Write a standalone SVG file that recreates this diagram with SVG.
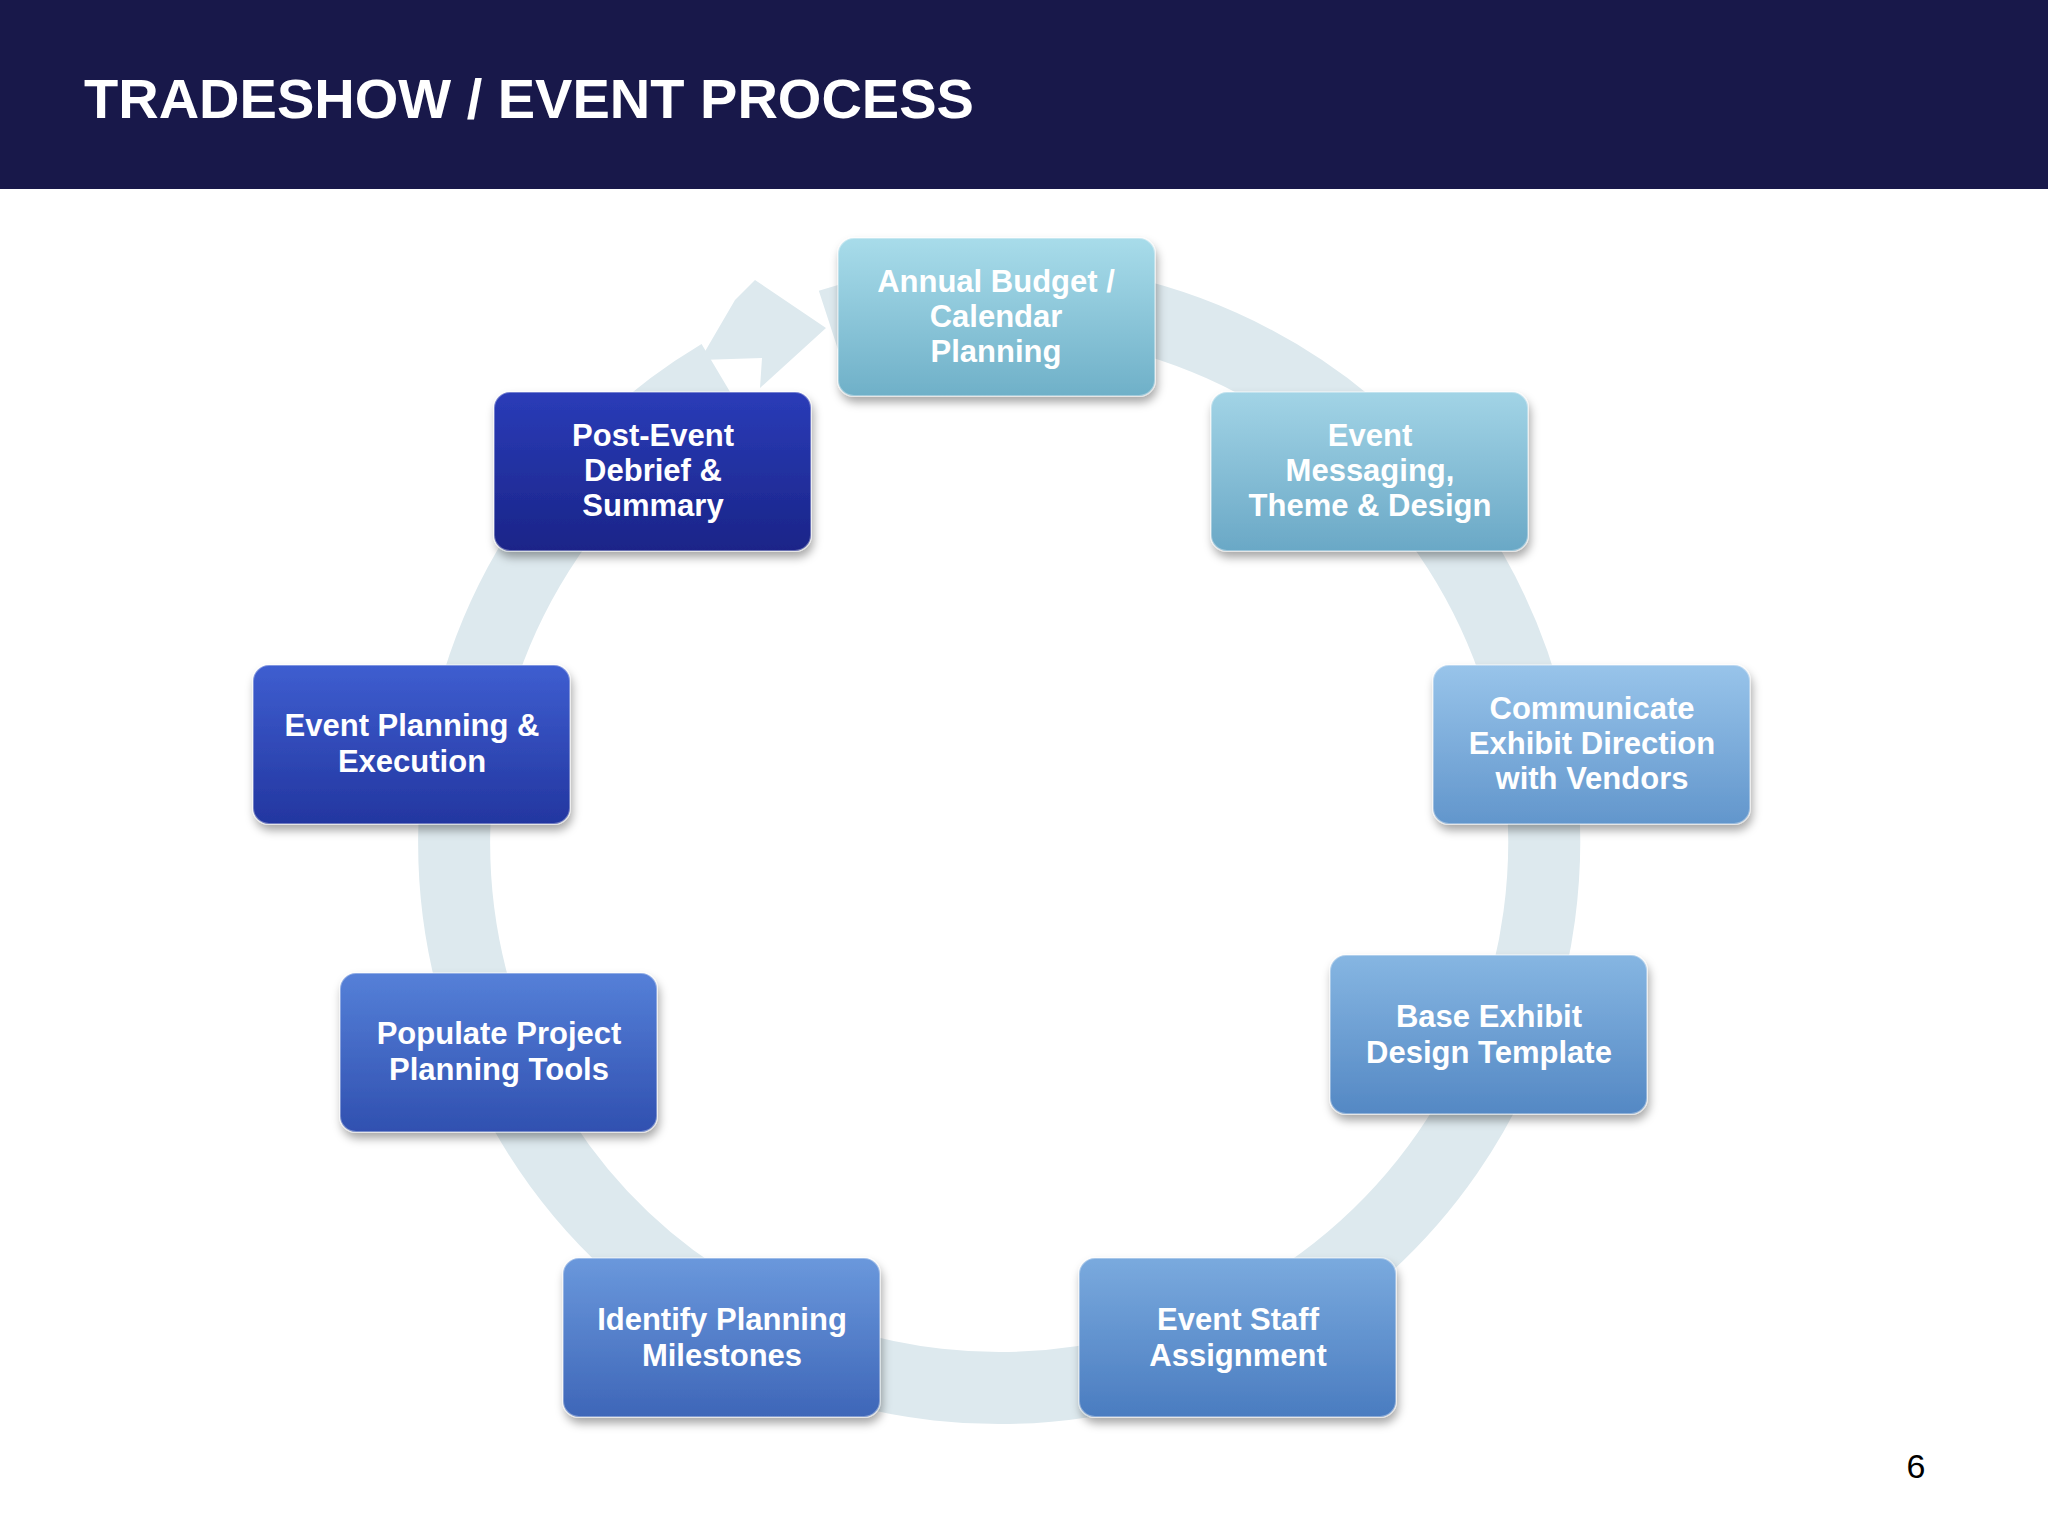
<svg xmlns="http://www.w3.org/2000/svg" width="2048" height="1536" viewBox="0 0 2048 1536">
<style>
.t{font-family:"Liberation Sans",Arial,sans-serif;font-weight:bold;font-size:31px;fill:#fff;text-anchor:middle}
.box{stroke:#fff;stroke-opacity:0.35;stroke-width:2;filter:url(#sh)}
</style>
<defs>
<filter id="sh" x="-10%" y="-10%" width="130%" height="140%"><feDropShadow dx="2" dy="6" stdDeviation="5" flood-color="#000" flood-opacity="0.35"/></filter>
<linearGradient id="g1" x1="0" y1="0" x2="0" y2="1"><stop offset="0" stop-color="#a8dcea"/><stop offset="1" stop-color="#6fb0c8"/></linearGradient>
<linearGradient id="g2" x1="0" y1="0" x2="0" y2="1"><stop offset="0" stop-color="#a2d4e6"/><stop offset="1" stop-color="#6aa8c6"/></linearGradient>
<linearGradient id="g3" x1="0" y1="0" x2="0" y2="1"><stop offset="0" stop-color="#98c4ea"/><stop offset="1" stop-color="#6296cc"/></linearGradient>
<linearGradient id="g4" x1="0" y1="0" x2="0" y2="1"><stop offset="0" stop-color="#86b6e2"/><stop offset="1" stop-color="#5488c4"/></linearGradient>
<linearGradient id="g5" x1="0" y1="0" x2="0" y2="1"><stop offset="0" stop-color="#7aaade"/><stop offset="1" stop-color="#4a7cc0"/></linearGradient>
<linearGradient id="g6" x1="0" y1="0" x2="0" y2="1"><stop offset="0" stop-color="#6a98dc"/><stop offset="1" stop-color="#3e66b8"/></linearGradient>
<linearGradient id="g7" x1="0" y1="0" x2="0" y2="1"><stop offset="0" stop-color="#5580d8"/><stop offset="1" stop-color="#3050b0"/></linearGradient>
<linearGradient id="g8" x1="0" y1="0" x2="0" y2="1"><stop offset="0" stop-color="#3e5ed0"/><stop offset="1" stop-color="#2336a0"/></linearGradient>
<linearGradient id="g9" x1="0" y1="0" x2="0" y2="1"><stop offset="0" stop-color="#2a3cb8"/><stop offset="1" stop-color="#1a2488"/></linearGradient>
</defs>
<rect width="2048" height="1536" fill="#fff"/>
<rect width="2048" height="189" fill="#18184a"/>
<text x="84" y="118" font-family="Liberation Sans,Arial,sans-serif" font-weight="bold" font-size="56" fill="#fff">TRADESHOW / EVENT PROCESS</text>
<g id="connectors">
<path d="M 830 325 A 545 545 0 1 1 720 375" fill="none" stroke="#dde9ee" stroke-width="72"/>
<polygon points="755,280 826,328 760,388 762,358 700,360 735,300" fill="#dde9ee"/>
</g>
<g id="n1"><rect class="box" x="838" y="238" width="317" height="158" rx="16" fill="url(#g1)"/><text class="t" x="996" y="292">Annual  Budget /</text><text class="t" x="996" y="327">Calendar</text><text class="t" x="996" y="362">Planning</text></g>
<g id="n2"><rect class="box" x="1211" y="392" width="317" height="159" rx="16" fill="url(#g2)"/><text class="t" x="1370" y="446">Event</text><text class="t" x="1370" y="481">Messaging,</text><text class="t" x="1370" y="516">Theme &amp; Design</text></g>
<g id="n3"><rect class="box" x="1433" y="665" width="317" height="159" rx="16" fill="url(#g3)"/><text class="t" x="1592" y="719">Communicate</text><text class="t" x="1592" y="754">Exhibit Direction</text><text class="t" x="1592" y="789">with Vendors</text></g>
<g id="n4"><rect class="box" x="1330" y="955" width="317" height="159" rx="16" fill="url(#g4)"/><text class="t" x="1489" y="1027">Base Exhibit</text><text class="t" x="1489" y="1063">Design Template</text></g>
<g id="n5"><rect class="box" x="1079" y="1258" width="317" height="159" rx="16" fill="url(#g5)"/><text class="t" x="1238" y="1330">Event Staff</text><text class="t" x="1238" y="1366">Assignment</text></g>
<g id="n6"><rect class="box" x="563" y="1258" width="317" height="159" rx="16" fill="url(#g6)"/><text class="t" x="722" y="1330">Identify Planning</text><text class="t" x="722" y="1366">Milestones</text></g>
<g id="n7"><rect class="box" x="340" y="973" width="317" height="159" rx="16" fill="url(#g7)"/><text class="t" x="499" y="1044">Populate Project</text><text class="t" x="499" y="1080">Planning Tools</text></g>
<g id="n8"><rect class="box" x="253" y="665" width="317" height="159" rx="16" fill="url(#g8)"/><text class="t" x="412" y="736">Event Planning &amp;</text><text class="t" x="412" y="772">Execution</text></g>
<g id="n9"><rect class="box" x="494" y="392" width="317" height="159" rx="16" fill="url(#g9)"/><text class="t" x="653" y="446">Post-Event</text><text class="t" x="653" y="481">Debrief &amp;</text><text class="t" x="653" y="516">Summary</text></g>
<text x="1916" y="1478" font-family="Liberation Sans,Arial,sans-serif" font-size="34" fill="#000" text-anchor="middle">6</text>
</svg>
